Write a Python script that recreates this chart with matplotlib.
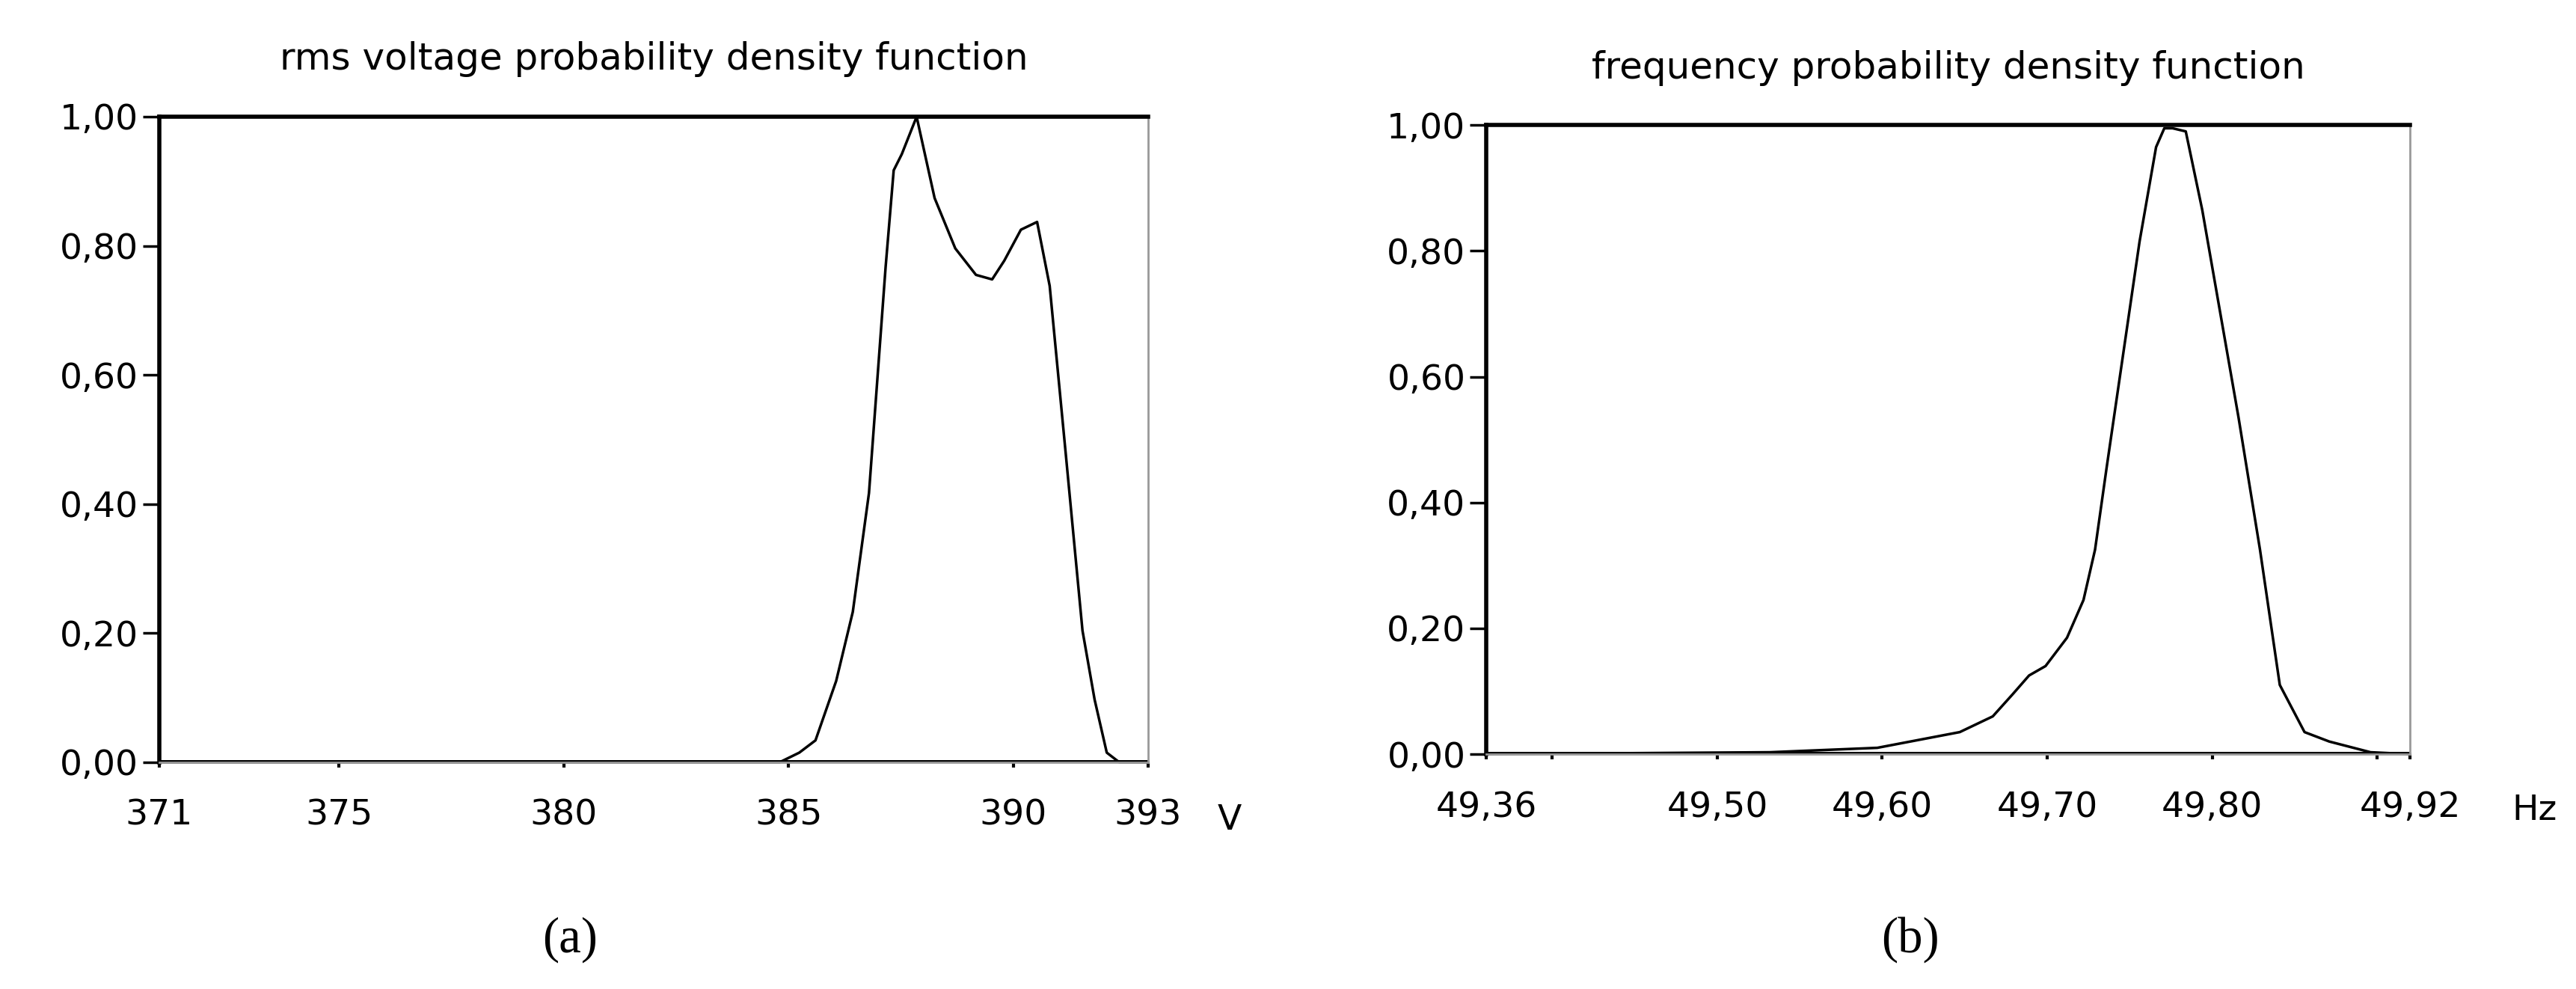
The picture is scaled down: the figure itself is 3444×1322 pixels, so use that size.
import matplotlib
matplotlib.use("Agg")
import matplotlib.pyplot as plt

# ---- data ----------------------------------------------------------------- #
volt_x = [371, 384.8, 385.24, 385.6, 386.06, 386.43, 386.79, 387.16, 387.34, 387.52,
          387.85, 388.25, 388.71, 389.17, 389.53, 389.8, 390.17, 390.53, 390.81,
          391.17, 391.54, 391.81, 392.08, 392.36, 393]
volt_y = [0, 0, 0.015, 0.034, 0.126, 0.233, 0.417, 0.767, 0.917, 0.942,
          1.0, 0.874, 0.796, 0.755, 0.748, 0.777, 0.825, 0.837, 0.738,
          0.476, 0.204, 0.097, 0.015, 0, 0]
volt_ticks = [371, 375, 380, 385, 390, 393]

freq_x = [49.36, 49.532, 49.597, 49.627, 49.647, 49.667, 49.679, 49.689, 49.699,
          49.712, 49.722, 49.729, 49.736, 49.746, 49.756, 49.766, 49.771, 49.776,
          49.784, 49.794, 49.804, 49.816, 49.829, 49.841, 49.856, 49.871, 49.896, 49.92]
freq_y = [0, 0.003, 0.01, 0.025, 0.035, 0.06, 0.095, 0.125, 0.14,
          0.185, 0.245, 0.325, 0.455, 0.635, 0.815, 0.965, 0.995, 0.995,
          0.99, 0.865, 0.715, 0.535, 0.325, 0.11, 0.035, 0.02, 0.003, 0]
freq_ticks = [49.36, 49.40, 49.50, 49.60, 49.70, 49.80, 49.90, 49.92]
freq_labels = ["49,36", "", "49,50", "49,60", "49,70", "49,80", "", "49,92"]

y_ticks = [0, 0.2, 0.4, 0.6, 0.8, 1.0]

plt.rcParams["font.family"] = ["DejaVu Sans"]

fig = plt.figure(figsize=(34.44, 13.22), dpi=100)


def style(ax, title, unit, unit_x, xmin, xmax, ticks, labels):
    ax.set_xlim(xmin, xmax)
    ax.set_ylim(0, 1.0)
    ax.set_xticks(ticks)
    ax.set_xticklabels(labels)
    ax.set_yticks(y_ticks)
    ax.set_yticklabels([f"{v:.2f}".replace(".", ",") for v in y_ticks])
    ax.tick_params(axis="x", length=5, width=3, direction="out", pad=30, labelsize=34)
    ax.tick_params(axis="y", length=16, width=2.5, direction="out", pad=4, labelsize=34)
    for s in ("top", "left"):
        ax.spines[s].set_linewidth(4)
        ax.spines[s].set_color("black")
    for s in ("bottom", "right"):
        ax.spines[s].set_linewidth(2)
        ax.spines[s].set_color("#999999")
    ax.set_title(title, fontsize=36, pad=45)
    ax.text(unit_x, -0.09, unit, transform=ax.transAxes, fontsize=34,
            ha="left", va="center")


ax1 = fig.add_axes([0.0618, 0.2292, 0.3839, 0.6528])
ax1.plot(volt_x, volt_y, color="black", lw=2.5, clip_on=False)
ax1.axhline(0, color="black", lw=5)
style(ax1, "rms voltage probability density function", "V", 1.07, 371, 393,
      volt_ticks, [str(t) for t in volt_ticks])

ax2 = fig.add_axes([0.577, 0.2375, 0.3586, 0.636])
ax2.plot(freq_x, freq_y, color="black", lw=2.5, clip_on=False)
ax2.axhline(0, color="black", lw=5)
style(ax2, "frequency probability density function", "Hz", 1.11, 49.36, 49.92,
      freq_ticks, freq_labels)

serif = ["Liberation Serif", "DejaVu Serif"]
fig.text(0.2212, 0.05, "(a)", fontsize=48, family=serif, ha="center", va="center")
fig.text(0.7416, 0.05, "(b)", fontsize=48, family=serif, ha="center", va="center")

fig.savefig("out.png", dpi=100)
